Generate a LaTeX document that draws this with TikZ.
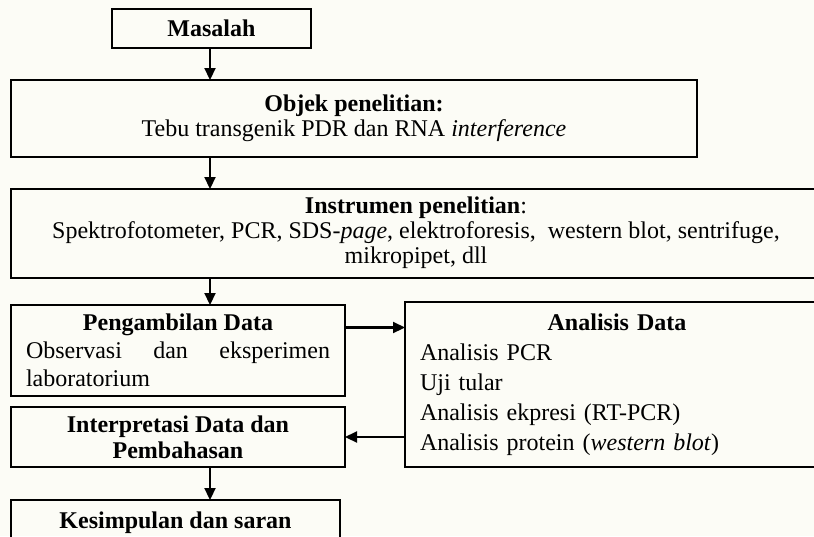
\documentclass[tikz,border=0pt]{standalone}
\usepackage{fontspec}
\setmainfont{Liberation Serif}
\usetikzlibrary{positioning, arrows.meta, calc}
\definecolor{paper}{RGB}{252,252,246}
\tikzset{
  box/.style={
    draw,
    rectangle,
    line width=1.6pt,
    outer sep=0pt,
    inner xsep=15pt,
    inner ysep=0pt,
    anchor=north west,
    align=center,
    font=\fontsize{24}{25}\selectfont
  },
  arrow/.style={
    line width=2.2pt,
    -{Triangle[length=12pt,width=11pt]}
  }
}

\begin{document}
\begin{tikzpicture}[x=1pt, y=-1pt]
    \fill[paper] (0,0) rectangle (814,536);
    \clip (0,0) rectangle (814,536);
    \coordinate (spine) at (210,0);

    \node[box, minimum width=199pt, minimum height=39pt] (masalah) at (112,9) {\textbf{Masalah}};
    \node[box, minimum width=686pt, minimum height=77pt] (objek) at (11,80) {\textbf{Objek penelitian:}\\Tebu transgenik PDR dan RNA \textit{interference}};
    \node[box, minimum width=830pt, minimum height=89pt] (instrbox) at (11,189) {};
    \node[align=center, font=\fontsize{24}{25}\selectfont] (instr) at (416,233) {\textbf{Instrumen penelitian}:\\Spektrofotometer, PCR, SDS-\textit{page}, elektroforesis, \ western blot, sentrifuge,\\mikropipet, dll};
    \node[box, align=justify, text width=304pt, minimum height=91pt, font=\fontsize{24}{28}\selectfont] (ambil) at (11,305) {\makebox[\linewidth]{\textbf{Pengambilan Data}}\\Observasi dan eksperimen \mbox{laboratorium}};
    \node[box, align=left, text width=394pt, minimum height=165pt, font=\fontsize{24}{30}\selectfont] (analisis) at (405,302) {\makebox[\linewidth]{\textbf{Analisis Data}}\\Analisis PCR\\Uji tular\\Analisis ekpresi (RT-PCR)\\Analisis protein (\textit{western blot})};
    \node[box, minimum width=334pt, minimum height=60pt, font=\fontsize{24}{26}\selectfont] (interp) at (11,407) {\textbf{Interpretasi Data dan}\\\textbf{Pembahasan}};
    \node[box, minimum width=329pt, minimum height=46pt] (simpul) at (11,500) {\textbf{Kesimpulan dan saran}};

    \draw[arrow] (masalah.south -| spine) -- (objek.north -| spine);
    \draw[arrow] (objek.south -| spine) -- (instrbox.north -| spine);
    \draw[arrow] (instrbox.south -| spine) -- (ambil.north -| spine);
    \draw[arrow] ([yshift=23pt]ambil.east) -- ([yshift=23pt]ambil.east -| analisis.west);
    \draw[arrow] (analisis.west |- interp.east) -- (interp.east);
    \draw[arrow] (interp.south -| spine) -- (simpul.north -| spine);
\end{tikzpicture}
\end{document}
